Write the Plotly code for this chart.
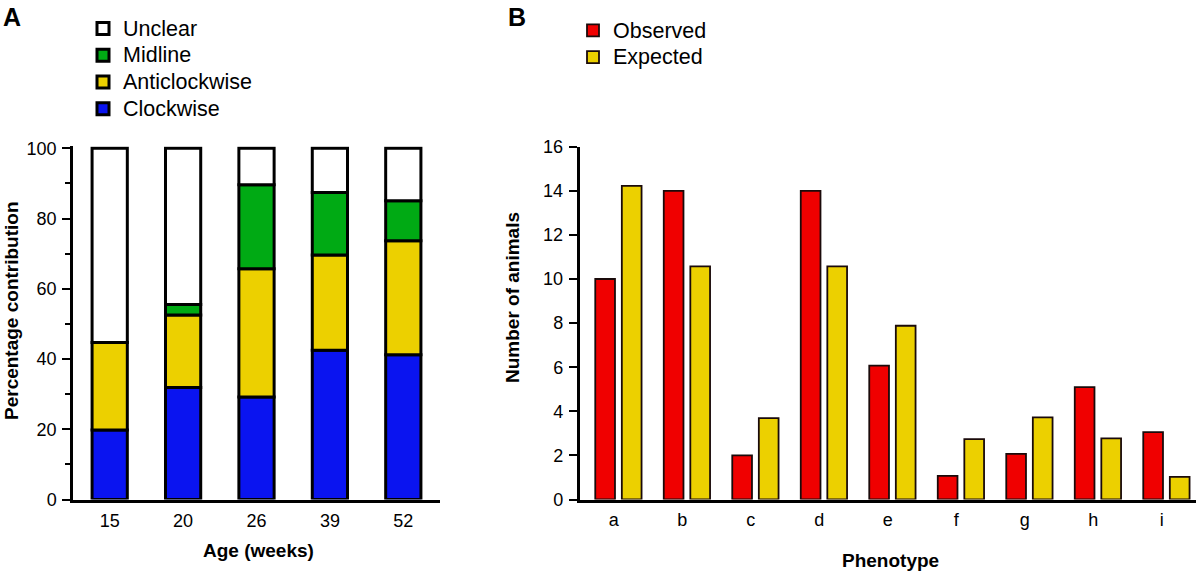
import plotly.graph_objects as go

W, H = 1200, 572

# ---- Panel A data ----
ages = ["15", "20", "26", "39", "52"]
clockwise = [19.8, 31.9, 29.2, 42.5, 41.2]
anticlockwise = [24.9, 20.6, 36.5, 27.1, 32.5]
midline = [0.0, 3.0, 23.9, 17.8, 11.4]
unclear = [55.3, 44.5, 10.4, 12.6, 14.9]

# ---- Panel B data ----
phenotypes = ["a", "b", "c", "d", "e", "f", "g", "h", "i"]
observed = [10, 14, 2, 14, 6.07, 1.07, 2.07, 5.1, 3.06]
expected = [14.22, 10.57, 3.69, 10.57, 7.88, 2.74, 3.72, 2.77, 1.03]

FONT = "Liberation Sans, Arial, sans-serif"
BLUE = "#0a14f0"
YELLOW = "#ecd000"
GREEN = "#00aa14"
RED = "#f00000"


def px_x(p):
    return p / W


def px_y(p):
    return 1 - p / H


def legend_name(label):
    return f"<span style='font-size:21.5px'>{label}</span>"


fig = go.Figure()

# stacked bars for panel A via explicit bases
series_a = [
    ("Clockwise", clockwise, BLUE),
    ("Anticlockwise", anticlockwise, YELLOW),
    ("Midline", midline, GREEN),
    ("Unclear", unclear, "white"),
]
base = [0.0] * len(ages)
for name, vals, col in series_a:
    fig.add_trace(go.Bar(
        x=ages, y=vals, base=list(base), name=legend_name(name),
        marker=dict(color=col, line=dict(color="black", width=3)),
        width=0.48, offset=-0.24,
        xaxis="x", yaxis="y", legend="legend",
    ))
    base = [b + v for b, v in zip(base, vals)]

# grouped bars for panel B
fig.add_trace(go.Bar(
    x=phenotypes, y=observed, name=legend_name("Observed"),
    marker=dict(color=RED, line=dict(color="#1a0a0a", width=1.8)),
    width=0.288, offset=-0.27,
    xaxis="x2", yaxis="y2", legend="legend2",
))
fig.add_trace(go.Bar(
    x=phenotypes, y=expected, name=legend_name("Expected"),
    marker=dict(color=YELLOW, line=dict(color="#1a0a0a", width=1.8)),
    width=0.288, offset=0.118,
    xaxis="x2", yaxis="y2", legend="legend2",
))

axis_common = dict(
    showline=True, linecolor="black", linewidth=2.5,
    showgrid=False, zeroline=False, automargin=False,
    tickfont=dict(family=FONT, size=18, color="black"),
    fixedrange=True,
)

fig.update_layout(
    width=W, height=H,
    margin=dict(l=0, r=0, t=0, b=0, autoexpand=False),
    paper_bgcolor="white", plot_bgcolor="white",
    barmode="overlay",
    showlegend=True,
    xaxis=dict(
        domain=[px_x(73), px_x(440)], anchor="y",
        type="category", range=[-0.5, 4.5],
        ticks="", ticklabelstandoff=3,
        **axis_common,
    ),
    yaxis=dict(
        domain=[px_y(499.5), px_y(146.2)], anchor="x",
        range=[0, 100.6],
        tickvals=[0, 20, 40, 60, 80, 100],
        ticks="outside", ticklen=8, tickwidth=2, tickcolor="black",
        minor=dict(tickvals=[10, 30, 50, 70, 90], ticks="outside",
                   ticklen=5, tickwidth=2, tickcolor="black"),
        ticklabelstandoff=2,
        **axis_common,
    ),
    xaxis2=dict(
        domain=[px_x(579.5), px_x(1196)], anchor="y2",
        type="category", range=[-0.5, 8.5],
        ticks="", ticklabelstandoff=2,
        **axis_common,
    ),
    yaxis2=dict(
        domain=[px_y(499.5), px_y(146.7)], anchor="x2",
        range=[0, 16],
        tickvals=[0, 2, 4, 6, 8, 10, 12, 14, 16],
        ticks="outside", ticklen=8, tickwidth=2, tickcolor="black",
        ticklabelstandoff=2,
        **axis_common,
    ),
    legend=dict(
        x=px_x(83), y=px_y(10), xanchor="left", yanchor="top",
        traceorder="reversed", bgcolor="rgba(0,0,0,0)",
        font=dict(family=FONT, size=18.3, color="black"),
        tracegroupgap=0,
    ),
    legend2=dict(
        x=px_x(573), y=px_y(12), xanchor="left", yanchor="top",
        traceorder="normal", bgcolor="rgba(0,0,0,0)",
        font=dict(family=FONT, size=18.3, color="black"),
        tracegroupgap=0,
    ),
)

annots = [
    dict(text="<b>A</b>", x=px_x(1), y=px_y(17), xanchor="left", yanchor="middle",
         font=dict(size=25)),
    dict(text="<b>B</b>", x=px_x(506), y=px_y(17), xanchor="left", yanchor="middle",
         font=dict(size=25)),
    dict(text="<b>Percentage contribution</b>", x=px_x(11), y=px_y(311), textangle=-90,
         xanchor="center", yanchor="middle", font=dict(size=19)),
    dict(text="<b>Age (weeks)</b>", x=px_x(258), y=px_y(550), xanchor="center",
         yanchor="middle", font=dict(size=19)),
    dict(text="<b>Number of animals</b>", x=px_x(512), y=px_y(298), textangle=-90,
         xanchor="center", yanchor="middle", font=dict(size=19)),
    dict(text="<b>Phenotype</b>", x=px_x(890), y=px_y(560), xanchor="center",
         yanchor="middle", font=dict(size=19)),
]
for a in annots:
    a["font"].update(family=FONT, color="black")
    fig.add_annotation(xref="paper", yref="paper", showarrow=False, **a)

fig.write_html(
    "out.html",
    config={"displayModeBar": False},
    post_script="document.body.style.margin='0px';document.body.style.overflow='hidden';",
)
